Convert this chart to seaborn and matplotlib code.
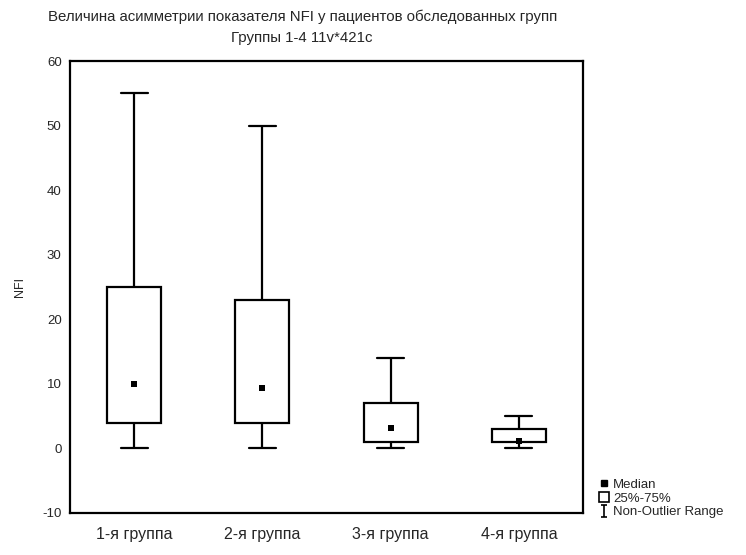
import numpy as np
import pandas as pd
import matplotlib
matplotlib.use("Agg")
import matplotlib.pyplot as plt
from matplotlib.lines import Line2D
from matplotlib.patches import Rectangle
from matplotlib.path import Path
import seaborn as sns

groups = ["1-я группа", "2-я группа", "3-я группа", "4-я группа"]
whisker_low = [0, 0, 0, 0]
q1 = [4, 4, 1, 1]
medians = [10, 9.3, 3.2, 1.1]
q3 = [25, 23, 7, 3]
whisker_high = [55, 50, 14, 5]

title_line1 = "Величина асимметрии показателя NFI у пациентов обследованных групп"
title_line2 = "Группы 1-4 11v*421c"
y_label = "NFI"
y_ticks = [-10, 0, 10, 20, 30, 40, 50, 60]

# five-point sample per group reproduces min/q1/median/q3/max exactly
rows = []
for g, a, b, m, c, d in zip(groups, whisker_low, q1, medians, q3, whisker_high):
    for v in (a, b, m, c, d):
        rows.append({"group": g, "NFI": v})
df = pd.DataFrame(rows)
med_df = pd.DataFrame({"group": groups, "NFI": medians})

sns.set_style("white")
plt.rcParams["font.family"] = ["Liberation Sans", "DejaVu Sans"]
plt.rcParams["axes.unicode_minus"] = False

fig = plt.figure(figsize=(7.46, 5.55), dpi=100)
ax = fig.add_axes([0.0938, 0.0757, 0.6877, 0.8143])

sns.boxplot(data=df, x="group", y="NFI", order=groups, whis=np.inf, width=0.42,
            color="white", linecolor="black", linewidth=1.6,
            medianprops={"visible": False}, showfliers=False, ax=ax)
sns.stripplot(data=med_df, x="group", y="NFI", order=groups, jitter=False,
              marker="s", color="black", size=5, ax=ax)

ax.set_xlim(-0.5, 3.5)
ax.set_ylim(-10, 60)
ax.set_yticks(y_ticks)
ax.set_xlabel("")
ax.set_ylabel(y_label, fontsize=9, labelpad=12)
ax.tick_params(axis="y", labelsize=9.5, direction="in", length=3, pad=6)
ax.tick_params(axis="x", labelsize=11.5, direction="in", length=3, pad=10)
for s in ax.spines.values():
    s.set_color("black")
    s.set_linewidth(1.6)

fig.text(0.405, 0.970, title_line1, ha="center", va="center", fontsize=10.8)
fig.text(0.405, 0.932, title_line2, ha="center", va="center", fontsize=10.8)

# legend (outside, bottom right)
ibeam = Path([(-0.5, -1), (0.5, -1), (0, -1), (0, 1), (-0.5, 1), (0.5, 1)],
             [Path.MOVETO, Path.LINETO, Path.MOVETO, Path.LINETO, Path.MOVETO, Path.LINETO])
handles = [
    Line2D([], [], marker="s", color="black", linestyle="none", markersize=4),
    Rectangle((0, 0), 1, 1, facecolor="white", edgecolor="black", linewidth=1.2),
    Line2D([], [], marker=ibeam, color="black", linestyle="none", markersize=9,
           markerfacecolor="none", markeredgewidth=1.2),
]
labels = ["Median", "25%-75%", "Non-Outlier Range"]
fig.legend(handles, labels, loc="lower left", bbox_to_anchor=(0.792, 0.052),
           frameon=False, fontsize=9.5, handlelength=0.8, handletextpad=0.3,
           labelspacing=0.1, borderpad=0.1)

fig.savefig("out.png", dpi=100)
